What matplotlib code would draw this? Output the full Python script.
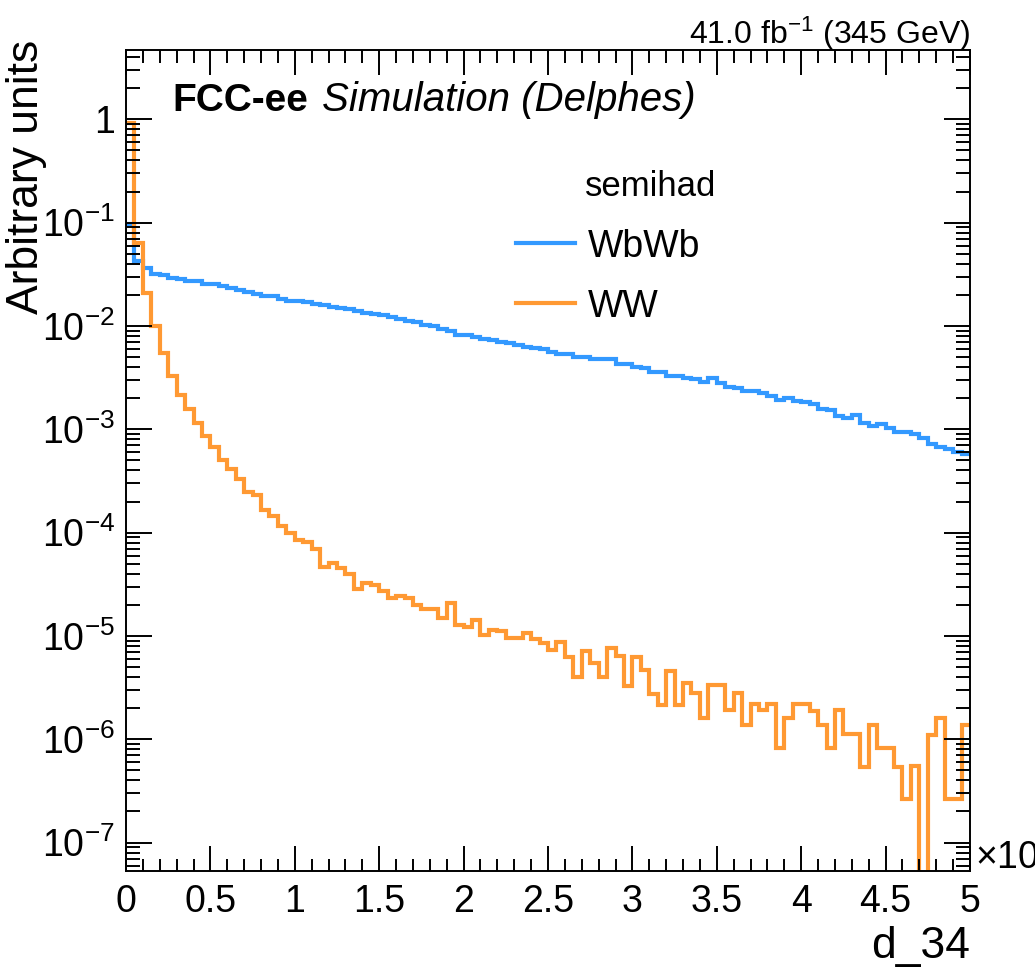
import numpy as np
import matplotlib
matplotlib.use("Agg")
import matplotlib.pyplot as plt
from matplotlib.ticker import FixedLocator, LogLocator, FuncFormatter, NullFormatter
from matplotlib.lines import Line2D

plt.rcParams['font.family'] = ['Liberation Sans', 'DejaVu Sans']
plt.rcParams['mathtext.fontset'] = 'custom'
plt.rcParams['mathtext.rm'] = 'Liberation Sans'
plt.rcParams['mathtext.it'] = 'Liberation Sans:italic'
plt.rcParams['mathtext.bf'] = 'Liberation Sans:bold'
plt.rcParams['mathtext.default'] = 'regular'

# ---------------- data ----------------
x_min, x_max, n_bins = 0.0, 5.0, 100
series_names = ["WbWb", "WW"]
legend_header = "semihad"
x_title = "d_34"
y_title = "Arbitrary units"
lumi_text = r"41.0 fb$^{-1}$ (345 GeV)"
x_tick_values = [0, 0.5, 1, 1.5, 2, 2.5, 3, 3.5, 4, 4.5, 5]
x_tick_labels = ["0", "0.5", "1", "1.5", "2", "2.5", "3", "3.5", "4", "4.5", "5"]
y_decades = [-7, -6, -5, -4, -3, -2, -1, 0]

wbwb = [
    0.098, 0.0427, 0.0363, 0.0318, 0.0314, 0.0292, 0.0286, 0.0274, 0.0270, 0.0257,
    0.0253, 0.0243, 0.0234, 0.0223, 0.0211, 0.0202, 0.0196, 0.0194, 0.0182, 0.0175,
    0.0173, 0.0169, 0.0165, 0.0159, 0.0153, 0.0149, 0.0147, 0.0140, 0.0134, 0.0131,
    0.0129, 0.0123, 0.0117, 0.0111, 0.0109, 0.0103, 0.0101, 0.0093, 0.0090, 0.0082,
    0.0081, 0.00776, 0.00742, 0.00738, 0.00703, 0.00679, 0.00654, 0.0062, 0.0061, 0.00604,
    0.00563, 0.00536, 0.00532, 0.00506, 0.00502, 0.0048, 0.00478, 0.00476, 0.0043, 0.00426,
    0.00398, 0.00396, 0.0036, 0.00358, 0.00328, 0.00326, 0.00312, 0.0031, 0.00288, 0.00311,
    0.00278, 0.00255, 0.00253, 0.00237, 0.00235, 0.00226, 0.00211, 0.00192, 0.00199, 0.00186,
    0.00184, 0.00175, 0.00157, 0.00155, 0.00135, 0.0013, 0.00137, 0.00116, 0.00107, 0.00112,
    0.00102, 0.000948, 0.000944, 0.0009, 0.000817, 0.00072, 0.00068, 0.000638, 0.000605, 0.000575,
]

ww = [
    0.914, 0.0639, 0.0208, 0.0099, 0.00543, 0.00327, 0.00214, 0.00156, 0.00116, 0.000865,
    0.000678, 0.000503, 0.000412, 0.00033, 0.000248, 0.000231, 0.000165, 0.000145, 0.000116, 0.0001,
    8.45e-5, 8.03e-5, 6.87e-5, 4.67e-5, 5.03e-5, 4.5e-5, 3.96e-5, 2.86e-5, 3.22e-5, 3.1e-5,
    2.73e-5, 2.34e-5, 2.43e-5, 2.34e-5, 1.99e-5, 1.81e-5, 1.81e-5, 1.5e-5, 2.09e-5, 1.27e-5,
    1.22e-5, 1.42e-5, 1.03e-5, 1.14e-5, 1.11e-5, 9.66e-6, 9.66e-6, 1.07e-5, 9.3e-6, 8.57e-6,
    7.29e-6, 8.65e-6, 6.28e-6, 4.02e-6, 7.13e-6, 5.42e-6, 4.02e-6, 7.57e-6, 6.37e-6, 3.27e-6,
    6.19e-6, 4.73e-6, 2.77e-6, 2.17e-6, 4.59e-6, 2.17e-6, 3.52e-6, 2.81e-6, 1.59e-6, 3.34e-6,
    3.34e-6, 1.91e-6, 2.81e-6, 1.37e-6, 2.19e-6, 1.91e-6, 2.19e-6, 8.3e-7, 1.59e-6, 2.19e-6,
    2.19e-6, 1.89e-6, 1.37e-6, 8.3e-7, 1.91e-6, 1.12e-6, 1.12e-6, 5.4e-7, 1.37e-6, 8.3e-7,
    8.3e-7, 5.4e-7, 2.67e-7, 5.5e-7, 0.0, 1.1e-6, 1.59e-6, 2.67e-7, 2.67e-7, 1.37e-6,
]

colors = ["#3399ff", "#ff9933"]

# ---------------- figure ----------------
W, H = 1035, 971
fig = plt.figure(figsize=(W / 100, H / 100), dpi=100)
ax_l, ax_r, ax_t, ax_b = 126, 970, 50, 871
ax = fig.add_axes([ax_l / W, 1 - ax_b / H, (ax_r - ax_l) / W, (ax_b - ax_t) / H])

edges = np.linspace(x_min, x_max, n_bins + 1)
for vals, col in zip([wbwb, ww], colors):
    ax.stairs(np.array(vals), edges, baseline=None, color=col, lw=3.0)

ax.set_yscale('log')
ax.set_xlim(x_min, x_max)
ax.set_ylim(5.31e-8, 4.69)

# ticks
ax.xaxis.set_major_locator(FixedLocator(x_tick_values))
ax.xaxis.set_minor_locator(FixedLocator(np.arange(0, 5.0001, 0.1)))
ax.set_xticklabels(x_tick_labels)
ax.yaxis.set_major_locator(FixedLocator([10.0 ** d for d in y_decades]))
ax.yaxis.set_minor_locator(LogLocator(base=10, subs=np.arange(2, 10), numticks=50))
ax.yaxis.set_minor_formatter(NullFormatter())

def yfmt(v, pos):
    e = int(round(np.log10(v)))
    if e == 0:
        return "1"
    return r"$10^{%d}$" % e
ax.yaxis.set_major_formatter(FuncFormatter(yfmt))

ax.tick_params(which='both', direction='in', top=True, right=True, width=1.4,
               labelsize=27, colors='black')
ax.tick_params(axis='x', which='major', length=18, pad=9)
ax.tick_params(axis='x', which='minor', length=9)
ax.tick_params(axis='y', which='major', length=19, pad=8)
ax.tick_params(axis='y', which='minor', length=10)
for s in ax.spines.values():
    s.set_linewidth(1.4)

# axis titles
fig.text(ax_r / W, 1 - 958 / H, x_title, ha='right', va='baseline', fontsize=32)
fig.text(27 / W, 1 - 40 / H, y_title, ha='center', va='top', rotation=90, fontsize=32)

# lumi text
fig.text(ax_r / W, 1 - 44 / H, lumi_text, ha='right', va='baseline', fontsize=23)

# FCC-ee label
t1 = fig.text(172 / W, 1 - 111 / H, "FCC-ee", ha='left', va='baseline',
              fontsize=28, fontweight='bold')
fig.canvas.draw()
bb = t1.get_window_extent()
fig.text((bb.x1 + 14) / W, 1 - 111 / H, "Simulation (Delphes)", ha='left',
         va='baseline', fontsize=29, fontstyle='italic')

# legend
fig.text(585 / W, 1 - 196 / H, legend_header, ha='left', va='baseline', fontsize=25)
leg_y = [243, 303]
for name, col, ly in zip(series_names, colors, leg_y):
    fig.add_artist(Line2D([516 / W, 575 / W], [1 - ly / H, 1 - ly / H], color=col, lw=3.0))
    fig.text(588 / W, 1 - (ly + 14) / H, name, ha='left', va='baseline', fontsize=27)

# multiplier at x-axis end
fig.text(975 / W, 1 - 858 / H, r"$\times10^{3}$", ha='left', va='center', fontsize=27)

fig.savefig("out.png", dpi=100)
